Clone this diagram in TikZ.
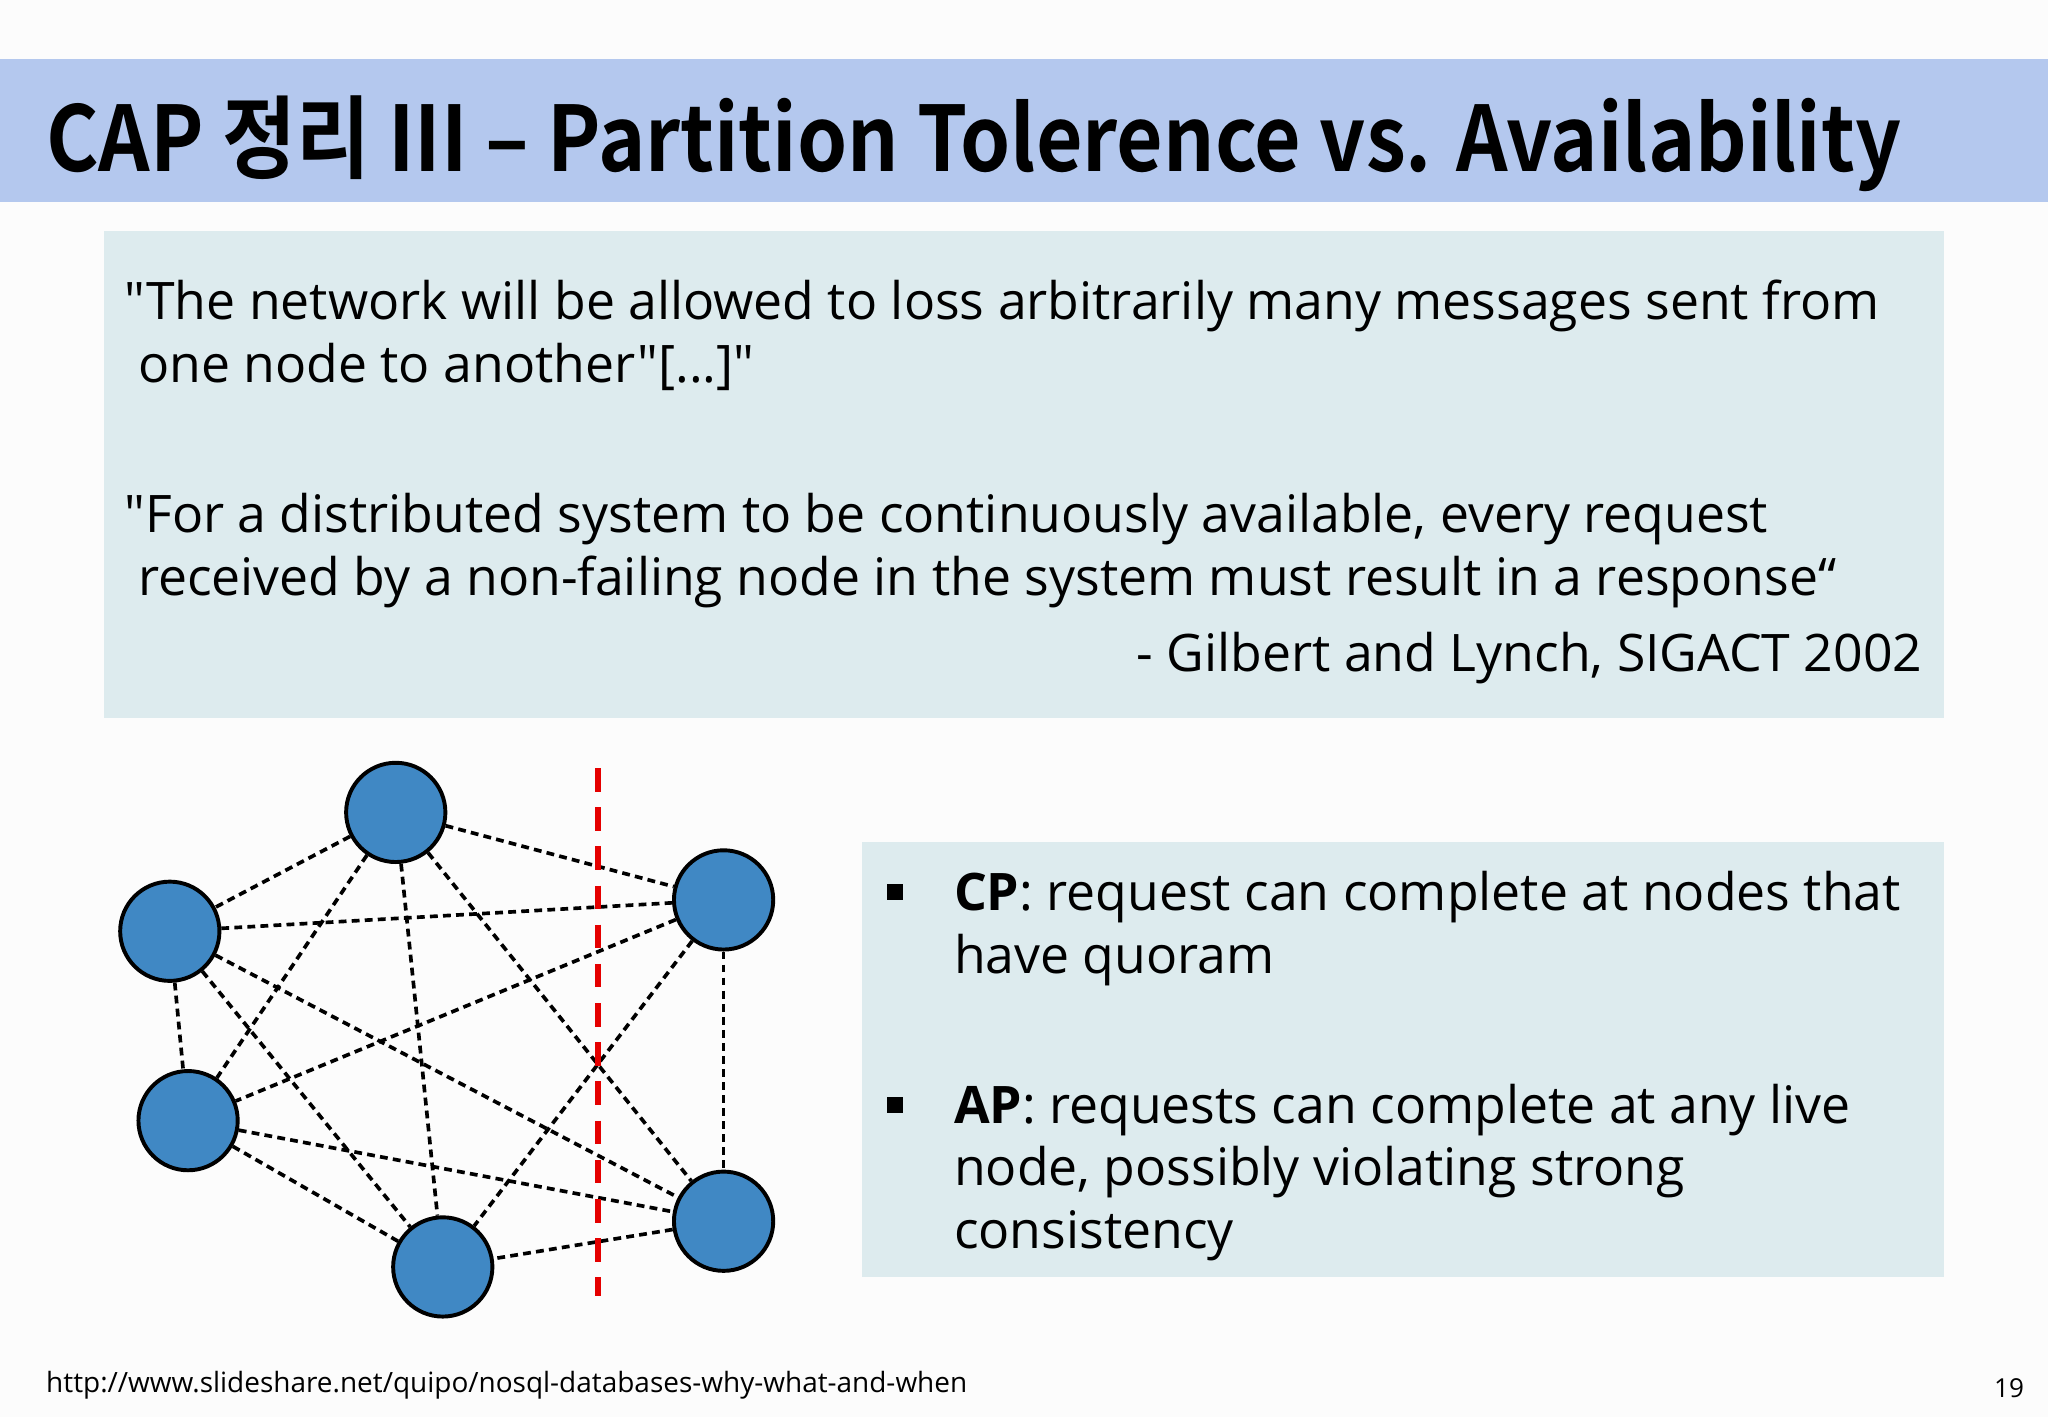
\documentclass[tikz,border=0pt]{standalone}
\usepackage{fontspec}
\setmainfont{Open Sans}[Ligatures=TeXOff]
\newfontfamily\krfont{Noto Sans CJK KR Bold}
\newcommand{\sq}{\symbol{"22}}
\definecolor{band}{RGB}{180,200,238}
\definecolor{qbox}{RGB}{221,235,238}
\definecolor{nodeblue}{RGB}{64,136,196}
\tikzset{pt/.style={circle,draw=black,line width=1.5pt,fill=nodeblue,minimum size=38pt,inner sep=0pt},
 lk/.style={line width=1.4pt,dash pattern=on 3pt off 2pt},
 bul/.style={fill=black,minimum size=6pt,inner sep=0pt},
 txt/.style={anchor=base west,inner sep=0pt,font=\fontsize{19.8}{24}\selectfont}}
\begin{document}
\begin{tikzpicture}[x=0.5pt,y=-0.5pt]
\useasboundingbox (0,0) rectangle (1568,1085);
\fill[white!98!gray] (0,0) rectangle (1568,1085);
\fill[band] (0,45) rectangle (1568,155);
\node[anchor=base west,inner sep=0pt] (title) at (35,131) {\resizebox{710pt}{29pt}{\krfont CAP 정리 III – Partition Tolerence vs. Availability}};
\fill[qbox] (80,177) rectangle (1488,550);
\node[txt] (q1) at (95,245) {\sq The network will be allowed to loss arbitrarily many messages sent from};
\node[txt] (q2) at (95,293) {\ one node to another\sq[...]\sq};
\node[txt] (q3) at (95,408) {\sq For a distributed system to be continuously available, every request};
\node[txt] (q4) at (95,456) {\ received by a non-failing node in the system must result in a response“};
\node[txt,anchor=base east] (q5) at (1472,514) {- Gilbert and Lynch, SIGACT 2002};
\fill[qbox] (660,645) rectangle (1488,978);
\node[bul] (b1) at (685,683) {};
\node[txt] (t1) at (730,697) {\textbf{CP}: request can complete at nodes that};
\node[txt] (t2) at (730,745) {have quoram};
\node[bul] (b2) at (685,846) {};
\node[txt] (t3) at (730,860) {\textbf{AP}: requests can complete at any live};
\node[txt] (t4) at (730,908) {node, possibly violating strong};
\node[txt] (t5) at (730,956) {consistency};
\node[pt] (A) at (303,622) {};
\node[pt] (B) at (130,713) {};
\node[pt] (C) at (554,689) {};
\node[pt] (D) at (144,858) {};
\node[pt] (E) at (554,935) {};
\node[pt] (F) at (339,970) {};
\foreach \u/\v in {A/B,A/C,A/D,A/E,A/F,B/C,B/D,B/E,B/F,C/D,C/E,C/F,D/E,D/F,E/F}
  \draw[lk] (\u) -- (\v);
\coordinate (r1) at (458,588);
\coordinate (r2) at (458,992);
\draw[red!90!black,line width=2.2pt,dash pattern=on 9pt off 6pt] (r1) -- (r2);
\node[anchor=base west,inner sep=0pt,font=\fontsize{10.7}{13}\selectfont] (url) at (35,1066) {http://www.slideshare.net/quipo/nosql-databases-why-what-and-when};
\node[anchor=base east,inner sep=0pt,font=\fontsize{10}{12}\selectfont] (pg) at (1550,1070) {19};
\end{tikzpicture}
\end{document}
